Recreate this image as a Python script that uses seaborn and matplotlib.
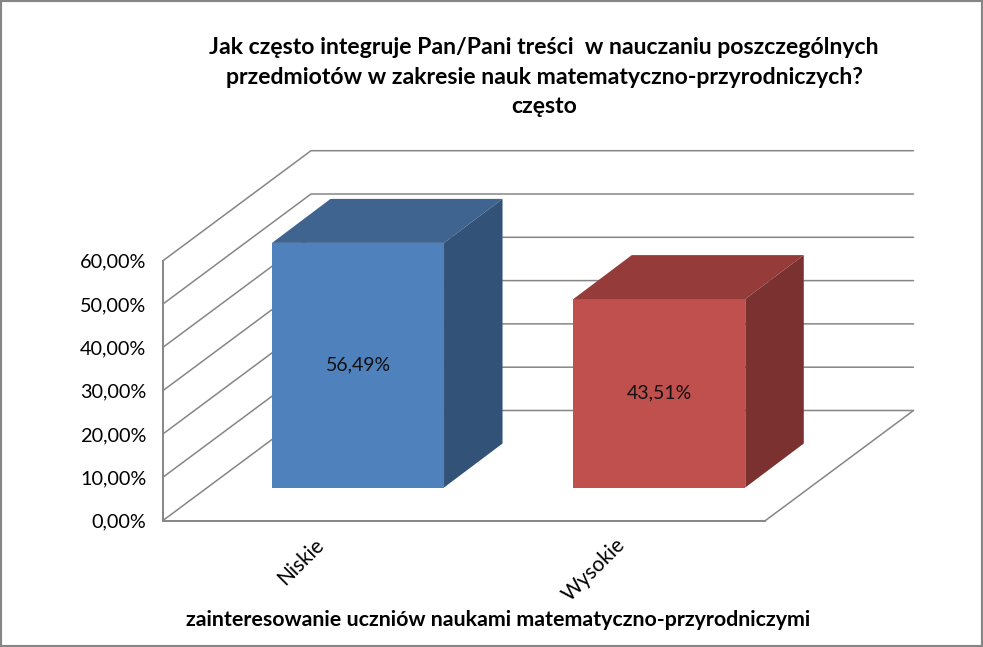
import matplotlib
matplotlib.use("Agg")
import matplotlib.pyplot as plt
from matplotlib.patches import Polygon, Rectangle
from matplotlib.transforms import IdentityTransform
import numpy as np
import pandas as pd
import seaborn as sns

categories = ["Niskie", "Wysokie"]
values = [56.49, 43.51]
value_labels = ["56,49%", "43,51%"]
y_ticks = [0, 10, 20, 30, 40, 50, 60]
y_tick_labels = ["0,00%", "10,00%", "20,00%", "30,00%", "40,00%", "50,00%", "60,00%"]
title = ("Jak często integruje Pan/Pani treści  w nauczaniu poszczególnych\n"
         "przedmiotów w zakresie nauk matematyczno-przyrodniczych?\n"
         "często")
x_title = "zainteresowanie uczniów naukami matematyczno-przyrodniczymi"
front_colors = ["#4F81BD", "#C0504D"]
top_colors = ["#3F648F", "#953C3A"]
side_colors = ["#325277", "#7A312F"]

W, H = 983, 647
GRID = "#868686"
sns.set_theme(style="white")
plt.rcParams["font.family"] = ["Lato", "DejaVu Sans"]

fig = plt.figure(figsize=(W / 100, H / 100), dpi=100, facecolor="white")

def rect(left, right, bottom, top):
    return [left / W, 1 - bottom / H, (right - left) / W, (bottom - top) / H]

# Axis plane (front of the floor) and bar plane (pushed back along the depth)
ax = fig.add_axes(rect(163, 765.5, 520.5, 260.7))
ax_bars = fig.add_axes(rect(207.4, 809.9, 487.5, 227.7), facecolor="none")
ax.set_zorder(1)
ax_bars.set_zorder(2)

df = pd.DataFrame({"group": categories, "value": values})
sns.barplot(data=df, x="group", y="value", hue="group", palette=front_colors,
            width=0.571, legend=False, saturation=1, linewidth=0, edgecolor="none", ax=ax_bars)
ax_bars.set_xlim(-0.5, 1.5)
ax_bars.set_ylim(0, 60)
ax_bars.axis("off")

ax.set_xlim(-0.5, 1.5)
ax.set_ylim(0, 60)
ax.set_facecolor("none")
ax.set_xticks(range(len(categories)))
ax.set_xticklabels(categories, rotation=45, ha="right", rotation_mode="anchor", fontsize=15, color="black")
ax.set_yticks(y_ticks)
ax.set_yticklabels(y_tick_labels, fontsize=14.3, color="black")
ax.tick_params(axis="y", length=0, pad=12)
ax.tick_params(axis="x", length=0, pad=10)
ax.set_xlabel("")
ax.set_ylabel("")
for s in ("top", "right"):
    ax.spines[s].set_visible(False)
for s in ("left", "bottom"):
    ax.spines[s].set_color(GRID)
    ax.spines[s].set_linewidth(1.4)

# Walls: the depth offset is in pixels on screen (y grows upward here)
wall_dx, wall_dy = 148, 110
ident = IdentityTransform()
for t in y_ticks:
    x0, y0 = ax.transData.transform((-0.5, t))
    x1, _ = ax.transData.transform((1.5, t))
    ax.plot([x0, x0 + wall_dx, x1 + wall_dx], [y0, y0 + wall_dy, y0 + wall_dy],
            transform=ident, color=GRID, lw=1.1, clip_on=False, zorder=1)
fx, fy = ax.transData.transform((1.5, 0))
ax.plot([fx, fx + wall_dx], [fy, fy + wall_dy], transform=ident, color=GRID, lw=1.1, clip_on=False, zorder=1)

# Depth of the bars
bar_dx, bar_dy = 58.5, 44
for patch, top_c, side_c in zip(ax_bars.patches, top_colors, side_colors):
    x0, x1 = patch.get_x(), patch.get_x() + patch.get_width()
    h = patch.get_height()
    (px0, py0), (px1, py1) = ax_bars.transData.transform([(x0, 0), (x1, h)])
    ax_bars.add_patch(Polygon([(px0, py1), (px1, py1), (px1 + bar_dx, py1 + bar_dy), (px0 + bar_dx, py1 + bar_dy)],
                              closed=True, transform=ident, facecolor=top_c, edgecolor="none", clip_on=False))
    ax_bars.add_patch(Polygon([(px1, py0), (px1, py1), (px1 + bar_dx, py1 + bar_dy), (px1 + bar_dx, py0 + bar_dy)],
                              closed=True, transform=ident, facecolor=side_c, edgecolor="none", clip_on=False))

ax_bars.bar_label(ax_bars.containers[0], labels=[value_labels[0]], label_type="center", fontsize=14, color="#111111")
ax_bars.bar_label(ax_bars.containers[1], labels=[value_labels[1]], label_type="center", fontsize=14, color="#111111")

fig.text(544 / W, 1 - 77 / H, title, ha="center", va="center", fontsize=16.6, fontweight="bold",
         color="black", linespacing=1.52)
fig.text(498 / W, 1 - 620 / H, x_title, ha="center", va="center", fontsize=15.4, fontweight="bold", color="black")

fig.add_artist(Rectangle((0, 0), 1, 1, transform=fig.transFigure, fill=False, edgecolor=GRID, linewidth=3))

fig.savefig("out.png", dpi=100, facecolor="white")
